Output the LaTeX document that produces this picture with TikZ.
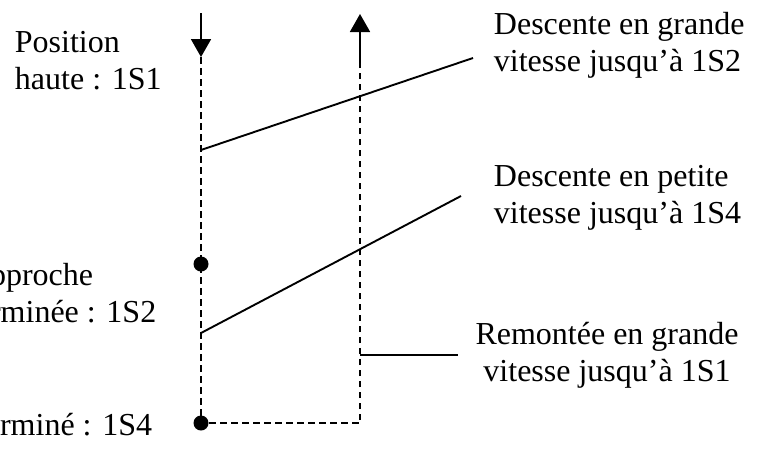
\documentclass[tikz,border=0pt]{standalone}
\usepackage{fontspec}
\setmainfont{Liberation Serif}
\usetikzlibrary{arrows.meta}
\begin{document}
\begin{tikzpicture}[x=1pt,y=-1pt,
  line width=1.9pt,
  dsh/.style={dash pattern=on 6.5pt off 4.5pt},
  tip/.style={-{Triangle[length=18pt,width=20pt]}},
  dot/.style={circle,fill=black,inner sep=0pt,minimum size=15pt},
  lbl/.style={inner sep=0pt,font=\fontsize{32}{37}\selectfont}]
\clip (0,0) rectangle (757,448);
% main line coordinates
\coordinate (Ltop) at (201,13);
\coordinate (Ltip) at (201,57);
\coordinate (L1) at (201,150);
\coordinate (L2) at (201,333);
\coordinate (Rbot) at (360,423);
\coordinate (R3) at (360,355);
\coordinate (Rs) at (360,62);
\coordinate (Rtop) at (360,14);
\node[dot] (Dmid) at (201,264) {};
\node[dot] (Dbot) at (201,423) {};
% leader ends
\coordinate (E1) at (473,58);
\coordinate (E2) at (461,196);
\coordinate (E3) at (458,355);
% lines
\draw[tip] (Ltop) -- (Ltip);
\draw[dsh] (Ltip) -- (Dbot.center) -- (Rbot) -- (Rs);
\draw[tip] (Rs) -- (Rtop);
\draw (L1) -- (E1);
\draw (L2) -- (E2);
\draw (R3) -- (E3);
% labels (base anchor = baseline of last line)
\node[lbl,anchor=base west,align=left] (t1) at (14,89) {Position\\haute : 1S1};
\node[lbl,anchor=base west,align=left] (t2) at (-34,322) {Approche\\terminée : 1S2};
\node[lbl,anchor=base east] (t3) at (153,435) {terminé : 1S4};
\node[lbl,anchor=base west,align=left] (t4) at (493,71) {Descente en grande\\vitesse jusqu’à 1S2};
\node[lbl,anchor=base west,align=left] (t5) at (493,223) {Descente en petite\\vitesse jusqu’à 1S4};
\node[lbl,anchor=base,align=center] (t6) at (607,381) {Remontée en grande\\vitesse jusqu’à 1S1};
\end{tikzpicture}
\end{document}
